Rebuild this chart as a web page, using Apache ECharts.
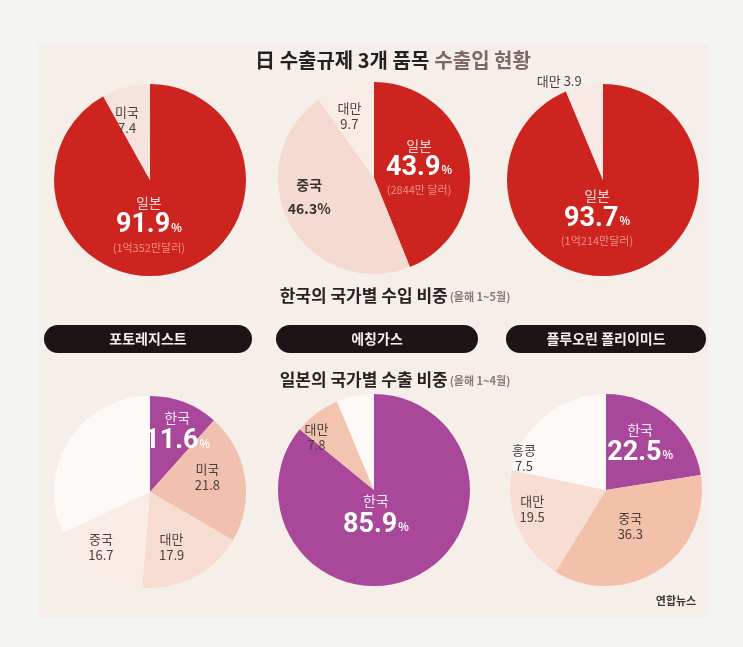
<!DOCTYPE html>
<html>
<head>
<meta charset="utf-8">
<script src="https://cdn.jsdelivr.net/npm/echarts@6/dist/echarts.min.js"></script>
<style>
html,body{margin:0;padding:0;background:#f4f4f2;}
#c{width:743px;height:647px;}
</style>
</head>
<body>
<div id="c"></div>
<script>
// ---- data ----
const mainTitle = '日 수출규제 3개 품목';
const mainTitle2 = '수출입 현황';
const importTitle = '한국의 국가별 수입 비중';
const importPeriod = '(올해 1~5월)';
const exportTitle = '일본의 국가별 수출 비중';
const exportPeriod = '(올해 1~4월)';
const items = ['포토레지스트', '에칭가스', '플루오린 폴리이미드'];
const source = '연합뉴스';

// Korea imports by country (Jan-May)
const imp1Names = ['일본', '미국', '기타'];
const imp1Values = [91.9, 7.4, 0.7];
const imp2Names = ['일본', '중국', '대만', '기타'];
const imp2Values = [43.9, 46.3, 9.7, 0.1];
const imp3Names = ['일본', '대만', '기타'];
const imp3Values = [93.7, 3.9, 2.4];
const japanAmounts = ['(1억352만달러)', '(2844만 달러)', '(1억214만달러)'];

// Japan exports by country (Jan-Apr)
const exp1Names = ['한국', '미국', '대만', '중국', '기타'];
const exp1Values = [11.6, 21.8, 17.9, 16.7, 32.0];
const exp2Names = ['한국', '대만', '기타'];
const exp2Values = [85.9, 7.8, 6.3];
const exp3Names = ['한국', '중국', '대만', '홍콩', '기타'];
const exp3Values = [22.5, 36.3, 19.5, 7.5, 14.2];

// ---- styles / layout ----
const FONT = '"Noto Sans CJK KR", "Noto Sans", sans-serif';
const NUMFONT = '"Liberation Sans Narrow", "Roboto", ' + FONT;
const RED = '#cd2420', PURPLE = '#a9489b';
const R = 96;
const centersTop = [[150, 180], [374, 178], [603, 180]];
const centersBot = [[150, 492], [374, 490], [606, 490]];
const gray = '#4a3f3f';

const rich = {
  n: {color: '#f3d6d6', fontSize: 14, fontFamily: FONT, lineHeight: 20},
  big: {color: '#ffffff', fontSize: 27, fontWeight: 'bold', fontFamily: NUMFONT, lineHeight: 26},
  pct: {color: '#ffffff', fontSize: 11, fontWeight: 'bold', fontFamily: FONT, padding: [4, 0, 0, 1]},
  sub: {color: '#f08f86', fontSize: 11, fontFamily: FONT, lineHeight: 18},
  s: {color: gray, fontSize: 13, fontFamily: FONT, lineHeight: 16},
  bb: {color: '#3a3232', fontSize: 14, fontWeight: 'bold', fontFamily: FONT, lineHeight: 24},
  kn: {color: '#f6e6f3', fontSize: 14, fontFamily: FONT, lineHeight: 22}
};

function mainLabel(name, v, sub, nameStyle) {
  let t = '{' + nameStyle + '|' + name + '}\n{big|' + v.toFixed(1) + '}{pct|%}';
  if (sub) t += '\n{sub|' + sub + '}';
  return t;
}
function smallLabel(name, v, inline) {
  return inline ? '{s|' + name + ' ' + v.toFixed(1) + '}' : '{s|' + name + '}\n{s|' + v.toFixed(1) + '}';
}

function makePie(center, names, values, colors, labels, offsets) {
  return {
    type: 'pie', center: center, radius: R, startAngle: 90, clockwise: true,
    silent: true, animation: false,
    label: {show: true, position: 'inside', rich: rich, align: 'center'},
    labelLine: {show: false},
    labelLayout: function (p) {
      const o = offsets[p.dataIndex] || [0, 0];
      return {dx: o[0], dy: o[1]};
    },
    itemStyle: {borderWidth: 0},
    data: names.map((n, i) => ({
      name: n, value: values[i],
      itemStyle: {color: colors[i]},
      label: labels[i] == null ? {show: false} : {show: true, formatter: labels[i]}
    }))
  };
}

const series = [
  makePie(centersTop[0], imp1Names, imp1Values, [RED, '#f7e3dd', '#f7e3dd'],
    [mainLabel(imp1Names[0], imp1Values[0], japanAmounts[0], 'n'), smallLabel(imp1Names[1], imp1Values[1]), null],
    [[-14, -5], [-9, -11]]),
  makePie(centersTop[1], imp2Names, imp2Values, [RED, '#f5dad2', '#f9ece7', '#f9ece7'],
    [mainLabel(imp2Names[0], imp2Values[0], japanAmounts[1], 'n'),
     '{bb|' + imp2Names[1] + '}\n{bb|' + imp2Values[1].toFixed(1) + '%}',
     smallLabel(imp2Names[2], imp2Values[2]), null],
    [[-5, -1], [-20, -6], [-9, -13]]),
  makePie(centersTop[2], imp3Names, imp3Values, [RED, '#f8e9e4', '#f8e9e4'],
    [mainLabel(imp3Names[0], imp3Values[0], japanAmounts[2], 'n'), smallLabel(imp3Names[1], imp3Values[1], true), null],
    [[-16, -12], [-30, -50]]),
  makePie(centersBot[0], exp1Names, exp1Values, [PURPLE, '#f2c0ae', '#f7dcd1', '#f9ebe5', '#fcf9f7'],
    [mainLabel(exp1Names[0], exp1Values[0], null, 'kn'), smallLabel(exp1Names[1], exp1Values[1]),
     smallLabel(exp1Names[2], exp1Values[2]), smallLabel(exp1Names[3], exp1Values[3]), null],
    [[9, -14], [7, -7], [-2, 10], [-20, 13]]),
  makePie(centersBot[1], exp2Names, exp2Values, [PURPLE, '#f3c4b0', '#fcf9f7'],
    [mainLabel(exp2Names[0], exp2Values[0], null, 'kn'), smallLabel(exp2Names[1], exp2Values[1]), null],
    [[-20, -22], [-27, -12]]),
  makePie(centersBot[2], exp3Names, exp3Values, [PURPLE, '#f3c0aa', '#f8ddd2', '#fcf9f7', '#fcf9f7'],
    [mainLabel(exp3Names[0], exp3Values[0], null, 'kn'), smallLabel(exp3Names[1], exp3Values[1]),
     smallLabel(exp3Names[2], exp3Values[2]), smallLabel(exp3Names[3], exp3Values[3]), null],
    [[1, -9], [-4, -6], [-27, -1], [-36, -10]])
];

const pillX = [[44, 252], [276, 478], [506, 706]];
const graphic = [
  {type: 'rect', shape: {x: 38, y: 44, width: 670, height: 574}, style: {fill: '#f6efe9'}, z: -10, silent: true}
];
items.forEach((t, i) => {
  const [x0, x1] = pillX[i];
  graphic.push({type: 'rect', shape: {x: x0, y: 325, width: x1 - x0, height: 28, r: 14},
    style: {fill: '#1c1515'}, silent: true});
  graphic.push({type: 'text', x: (x0 + x1) / 2, y: 339,
    style: {text: t, fill: '#f4eeee', font: 'bold 14px ' + FONT, textAlign: 'center', textVerticalAlign: 'middle'}, silent: true});
});
graphic.push({type: 'text', x: 676, y: 601,
  style: {text: source, fill: '#3a3a3a', font: 'bold 11px ' + FONT, textAlign: 'center', textVerticalAlign: 'middle'}, silent: true});

const option = {
  backgroundColor: '#f4f4f2',
  animation: false,
  title: [
    {text: '{a|' + mainTitle + '} {b|' + mainTitle2 + '}', left: 388, top: 45, textAlign: 'center',
      textStyle: {rich: {a: {fontSize: 20, fontWeight: 'bold', color: '#222', fontFamily: FONT},
        b: {fontSize: 20, color: '#7d6a66', fontFamily: FONT}}}},
    {text: '{a|' + importTitle + '}{b|' + importPeriod + '}', left: 390, top: 282, textAlign: 'center',
      textStyle: {rich: {a: {fontSize: 17, fontWeight: 'bold', color: '#2a2222', fontFamily: FONT},
        b: {fontSize: 11, color: '#8a7a78', fontFamily: FONT, padding: [3, 0, 0, 2]}}}},
    {text: '{a|' + exportTitle + '}{b|' + exportPeriod + '}', left: 390, top: 366, textAlign: 'center',
      textStyle: {rich: {a: {fontSize: 17, fontWeight: 'bold', color: '#2a2222', fontFamily: FONT},
        b: {fontSize: 11, color: '#8a7a78', fontFamily: FONT, padding: [3, 0, 0, 2]}}}}
  ],
  graphic: graphic,
  series: series
};
const chart = echarts.init(document.getElementById('c'), null, {renderer: 'canvas'});
chart.setOption(option);
</script>
</body>
</html>
